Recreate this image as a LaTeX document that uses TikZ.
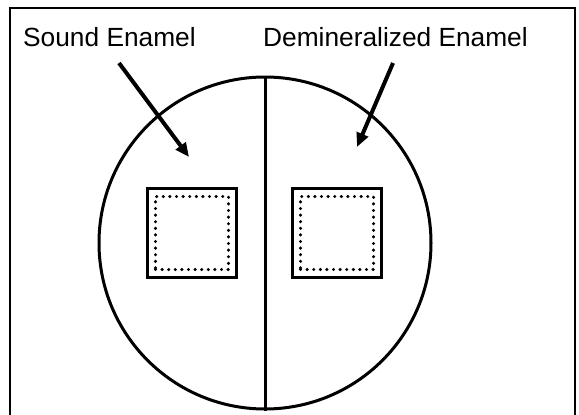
\documentclass[tikz,border=0pt]{standalone}
\usepackage{fontspec}
\setmainfont{Liberation Sans}
\usetikzlibrary{arrows.meta}
\begin{document}
\begin{tikzpicture}[x=1pt,y=-1pt,
  frame/.style={line width=1.6pt},
  disk/.style={circle,draw,line width=3pt,minimum size=332pt,inner sep=0pt},
  divider/.style={line width=3pt},
  outersq/.style={draw,line width=3.8pt,minimum size=89pt,inner sep=0pt},
  innersq/.style={draw,line width=3.4pt,line cap=round,dash pattern=on 0pt off 6.6pt,minimum size=73pt,inner sep=0pt},
  pointer/.style={line width=4pt,-{Triangle[length=14pt,width=12pt]}},
  lbl/.style={font=\fontsize{26.3}{30}\selectfont,anchor=base west,inner sep=0pt}]
\useasboundingbox (0,0) rectangle (579,415);
\draw[frame] (10,420) -- (10,8) -- (575,8) -- (575,420);
\node[lbl] (sound) at (23,46) {Sound Enamel};
\node[lbl] (demin) at (263,46) {Demineralized Enamel};
\node[disk] (tooth) at (265,243) {};
\draw[divider] (tooth.north) -- (tooth.south);
\node[outersq] (lsq) at (192,233) {};
\node[innersq] (lin) at (192,233) {};
\node[outersq] (rsq) at (337,233) {};
\node[innersq] (rin) at (337,233) {};
\coordinate (ls) at (119,63);
\coordinate (lt) at (189,157);
\coordinate (rs) at (393,63);
\coordinate (rt) at (357,147);
\draw[pointer] (ls) -- (lt);
\draw[pointer] (rs) -- (rt);
\end{tikzpicture}
\end{document}
